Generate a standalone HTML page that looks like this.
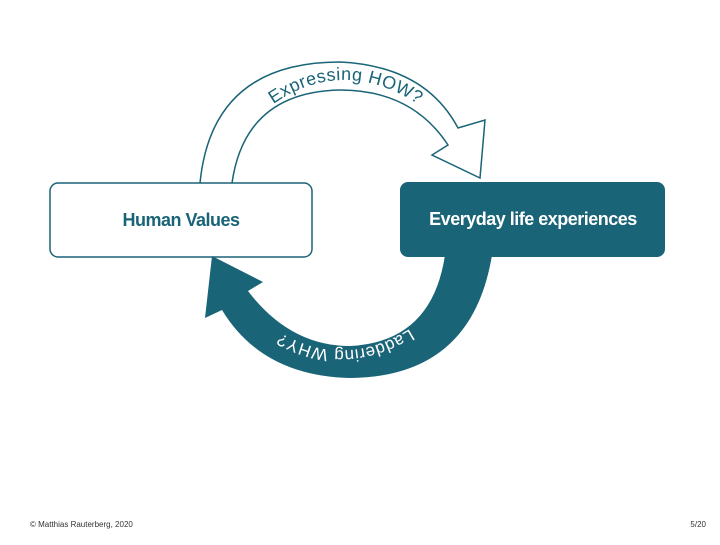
<!DOCTYPE html>
<html><head><style>
body{margin:0;width:720px;height:540px;background:#fff;overflow:hidden;font-family:"Liberation Sans",sans-serif}
</style></head><body>
<svg width="720" height="540" xmlns="http://www.w3.org/2000/svg">
<path d="M200,183 Q212,62 340,62 Q425,66 458,128 L485,120 L480,178 L432,155 L448,145 Q412,90 340,90 Q245,92 232,183" fill="#fff" stroke="#1a6478" stroke-width="1.5"/>
<path id="t1" d="M268,108 Q342,52 424,108" fill="none"/>
<text font-size="18" fill="#1a6478" letter-spacing="0.5"><textPath href="#t1" startOffset="50%" text-anchor="middle">Expressing HOW?</textPath></text>
<rect x="50" y="183" width="262" height="74" rx="8" fill="#fff" stroke="#1a6478" stroke-width="1.5"/>
<rect x="400" y="182" width="265" height="75" rx="8" fill="#1a6478"/>
<path d="M492,255 Q472,377 350,378 Q262,376 222,310 L205,318 L212,256 L263,282 L248,291 Q290,346 350,346 Q432,342 445,255 Z" fill="#1a6478"/>
<path id="t2" d="M425,318 Q345,380 265,323" fill="none"/>
<text font-size="17" fill="#fff" letter-spacing="0.5"><textPath href="#t2" startOffset="50%" text-anchor="middle">Laddering  WHY?</textPath></text>
<text x="181" y="226" font-size="18" font-weight="bold" fill="#1a6478" text-anchor="middle" letter-spacing="-0.5">Human Values</text>
<text x="533" y="225" font-size="18" font-weight="bold" fill="#fff" text-anchor="middle" letter-spacing="-0.5">Everyday life experiences</text>
<text x="30" y="527" font-size="8" fill="#333">© Matthias Rauterberg, 2020</text>
<text x="706" y="527" font-size="8" fill="#333" text-anchor="end">5/20</text>
</svg>
</body></html>
